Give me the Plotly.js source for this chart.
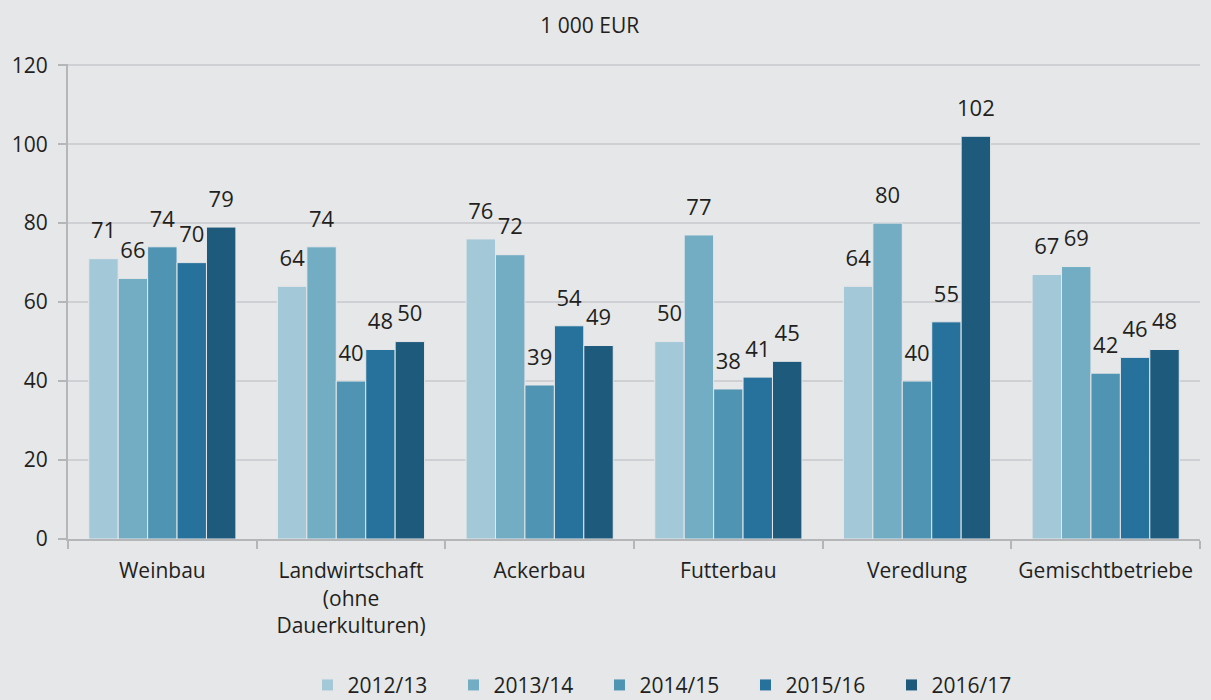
<!DOCTYPE html>
<html><head><meta charset="utf-8">
<script src="https://cdn.plot.ly/plotly-3.0.1.min.js"></script>
<style>html,body{margin:0;padding:0;background:#e6e7e9;}#chart{width:1211px;height:700px;}</style>
</head><body><div id="chart"></div>
<script>
const categories = ["Weinbau", "Landwirtschaft<br>(ohne<br>Dauerkulturen)", "Ackerbau", "Futterbau", "Veredlung", "Gemischtbetriebe"];
const seriesNames = ["2012/13", "2013/14", "2014/15", "2015/16", "2016/17"];
const v2012 = [71, 64, 76, 50, 64, 67];
const v2013 = [66, 74, 72, 77, 80, 69];
const v2014 = [74, 40, 39, 38, 40, 42];
const v2015 = [70, 48, 54, 41, 55, 46];
const v2016 = [79, 50, 49, 45, 102, 48];
const colors = ["#a3c9d9", "#72adc4", "#4f95b3", "#27729c", "#1e5a7c"];
const allValues = [v2012, v2013, v2014, v2015, v2016];

const font = "Open Sans, Noto Sans, sans-serif";
const barTraces = allValues.map((vals, i) => ({
  type: "bar",
  name: seriesNames[i],
  x: categories,
  y: vals,
  offsetgroup: "g" + i,
  marker: {color: colors[i], line: {color: "#e6e7e9", width: 1}},
  hoverinfo: "x+y"
}));
const labelTraces = allValues.map((vals, i) => ({
  type: "scatter",
  mode: "markers+text",
  name: seriesNames[i],
  x: categories,
  y: vals,
  offsetgroup: "g" + i,
  text: vals.map(v => String(v)),
  textposition: "top center",
  textfont: {size: 22, color: "#231f20", family: font},
  marker: {size: 22, color: "rgba(0,0,0,0)"},
  cliponaxis: false,
  showlegend: false,
  hoverinfo: "skip"
}));

const layout = {
  width: 1211, height: 700,
  paper_bgcolor: "#e6e7e9", plot_bgcolor: "#e6e7e9",
  font: {family: font, color: "#231f20", size: 20},
  margin: {l: 68, r: 11, t: 64, b: 161},
  title: {text: "1 000 EUR", font: {size: 21, family: font, color: "#231f20"}, xref: "container", x: 0.487, xanchor: "center", y: 0.964, yanchor: "middle"},
  barmode: "group",
  bargap: 0.22,
  bargroupgap: 0,
  scattermode: "group",
  scattergap: 0.22,
  xaxis: {
    automargin: false,
    tickson: "boundaries", ticks: "outside", ticklen: 8, tickcolor: "#b5b6b8", tickwidth: 2,
    showline: true, linecolor: "#b5b6b8", linewidth: 2, ticklabelstandoff: 12,
    tickfont: {size: 21, color: "#231f20"}, showgrid: false
  },
  yaxis: {
    automargin: false,
    range: [0, 120.3], tickvals: [0, 20, 40, 60, 80, 100, 120], ticks: "outside", ticklen: 8, tickcolor: "#b5b6b8", tickwidth: 2,
    showline: true, linecolor: "#b5b6b8", linewidth: 2, ticklabelstandoff: 6,
    gridcolor: "#cfd0d3", gridwidth: 1.5, zeroline: false,
    tickfont: {size: 21, color: "#231f20"}
  },
  legend: {
    orientation: "h", x: 0.534, xanchor: "center", yref: "container", y: 0.021, yanchor: "middle",
    font: {size: 21, color: "#231f20"}, entrywidth: 101, itemwidth: 30
  },
  showlegend: true
};
Plotly.newPlot("chart", barTraces.concat(labelTraces), layout, {displayModeBar: false, staticPlot: true});
</script></body></html>
